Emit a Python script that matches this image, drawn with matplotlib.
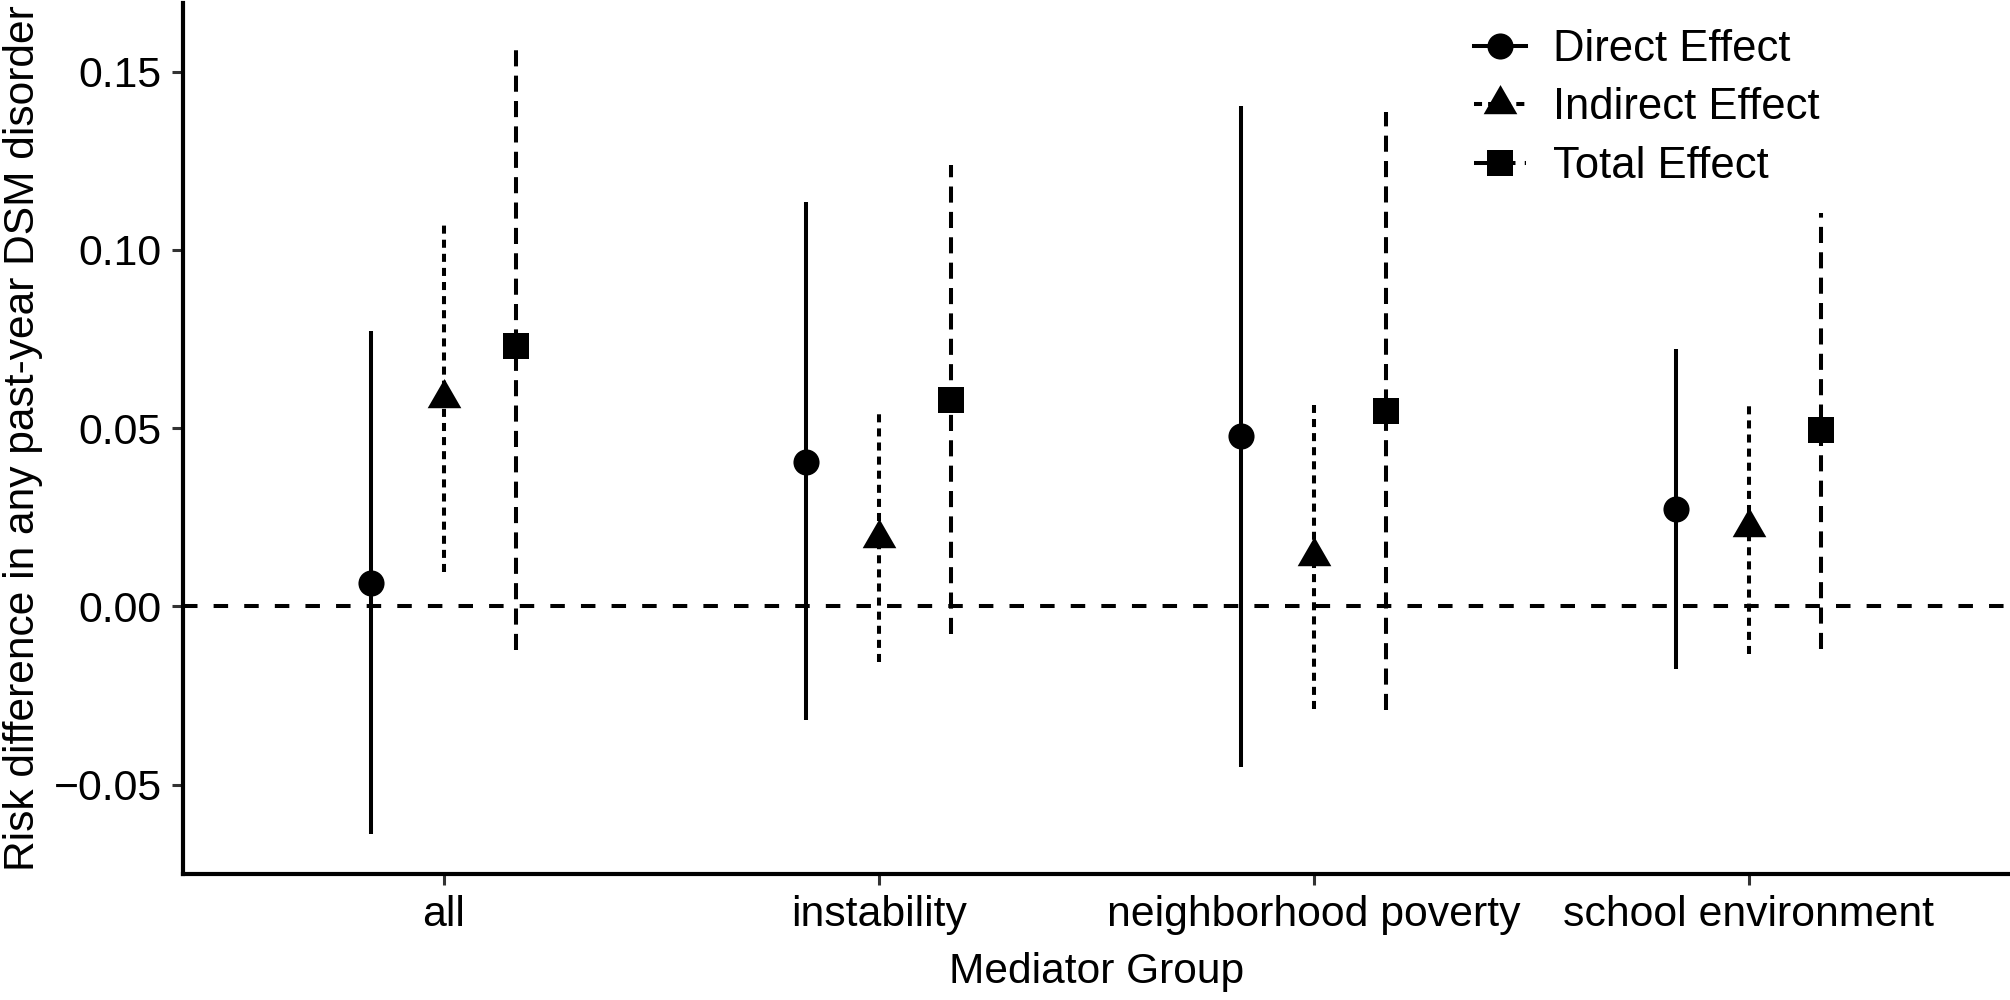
import numpy as np
import matplotlib
matplotlib.use("Agg")
import matplotlib.pyplot as plt
from matplotlib.lines import Line2D
from matplotlib.path import Path

plt.rcParams['font.family'] = ['Liberation Sans', 'DejaVu Sans']

# data
groups = ['all', 'instability', 'neighborhood poverty', 'school environment']
effects = ['Direct Effect', 'Indirect Effect', 'Total Effect']

direct_est = [0.0066, 0.0406, 0.0477, 0.0274]
direct_lo = [-0.0640, -0.0320, -0.0450, -0.0175]
direct_hi = [0.0772, 0.1136, 0.1405, 0.0723]

indirect_est = [0.0585, 0.0193, 0.0142, 0.0222]
indirect_lo = [0.0095, -0.0157, -0.0288, -0.0133]
indirect_hi = [0.1080, 0.0542, 0.0566, 0.0576]

total_est = [0.0730, 0.0580, 0.0548, 0.0494]
total_lo = [-0.0123, -0.0077, -0.0292, -0.0119]
total_hi = [0.1582, 0.1238, 0.1388, 0.1105]

# triangle with its centroid on the point (like R's pch 17)
tri = Path([(0, 2), (-1.732, -1), (1.732, -1), (0, 2)],
           [Path.MOVETO, Path.LINETO, Path.LINETO, Path.CLOSEPOLY])

styles = [
    dict(marker='o', ms=9.4, ls='-'),
    dict(marker=tri, ms=14.0, ls=(0, (2.0, 1.5))),
    dict(marker='s', ms=9.2, ls=(0, (4.0, 2.3))),
]
series = [
    (direct_est, direct_lo, direct_hi),
    (indirect_est, indirect_lo, indirect_hi),
    (total_est, total_lo, total_hi),
]

fig = plt.figure(figsize=(10.05, 5.0), dpi=200)
ax = fig.add_axes([0.091, 0.126, 0.909, 0.871])

x = np.arange(1, len(groups) + 1)
offsets = [-1 / 6, 0, 1 / 6]
lw = 1.45

ax.axhline(0, color='black', lw=lw, ls=(0, (3.6, 4.0)), zorder=1)

handles = []
for (est, lo, hi), st, off, name in zip(series, styles, offsets, effects):
    xs = x + off
    ax.vlines(xs, lo, hi, color='black', lw=lw, linestyles=[st['ls']], zorder=2)
    ax.plot(xs, est, ls='none', marker=st['marker'], ms=st['ms'],
            color='black', mew=0, zorder=3)
    handles.append(Line2D([], [], color='black', lw=lw, ls=st['ls'],
                          marker=st['marker'], ms=st['ms'], mew=0, label=name))

allv = np.concatenate([direct_lo, direct_hi, indirect_lo, indirect_hi,
                       total_lo, total_hi, [0]])
rng = allv.max() - allv.min()
ax.set_ylim(allv.min() - 0.05 * rng, allv.max() + 0.05 * rng)
ax.set_xlim(0.4, len(groups) + 0.6)

ax.set_xticks(x)
ax.set_xticklabels(groups)
ax.set_yticks([-0.05, 0.0, 0.05, 0.10, 0.15])
ax.set_yticklabels(['\u22120.05', '0.00', '0.05', '0.10', '0.15'])
ax.tick_params(labelsize=15.4, length=4, width=1.1, color='#333333',
               pad=3.6, labelcolor='black')

for s in ['top', 'right']:
    ax.spines[s].set_visible(False)
for s in ['left', 'bottom']:
    ax.spines[s].set_linewidth(1.5)
    ax.spines[s].set_color('black')

ax.set_xlabel('Mediator Group', fontsize=15.3, labelpad=6)
ax.set_ylabel('Risk difference in any past-year DSM disorder', fontsize=15.3,
              labelpad=4)

leg = ax.legend(handles=handles, loc='upper left',
                bbox_to_anchor=(0.716, 1.006), bbox_transform=fig.transFigure,
                frameon=False, fontsize=15.7, handlelength=1.2,
                handletextpad=0.6, labelspacing=0.4, borderpad=0.3)

fig.savefig('out.png', dpi=200)
